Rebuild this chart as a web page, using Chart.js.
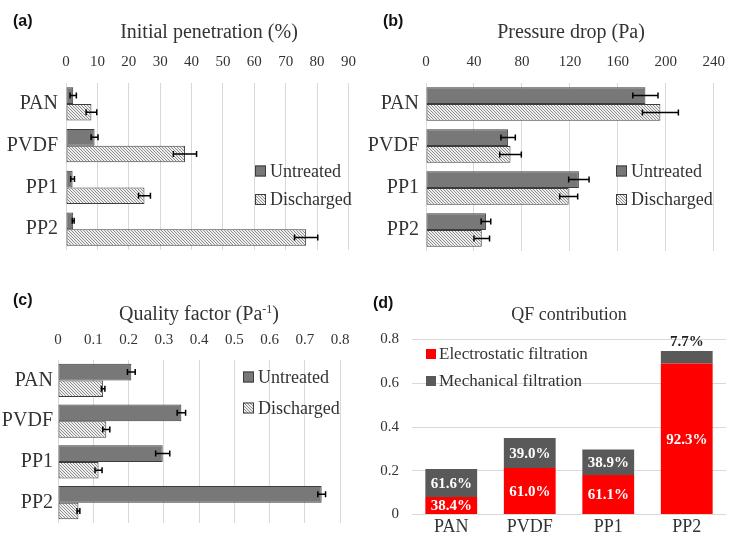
<!DOCTYPE html>
<html>
<head>
<meta charset="utf-8">
<script src="https://cdn.jsdelivr.net/npm/chart.js@4/dist/chart.umd.min.js"></script>
<style>
  html, body { margin: 0; padding: 0; background: #fff; }
  #wrap { position: relative; width: 737px; height: 540px; background: #fff; overflow: hidden; }
  canvas { position: absolute; }
  .tag { position: absolute; font-family: 'Liberation Sans', Arial, sans-serif; font-weight: bold; font-size: 16px; line-height: 1; color: #111; white-space: nowrap; }
  .ttl { position: absolute; font-family: 'Liberation Serif', serif; font-size: 20px; line-height: 1; color: #333; text-align: center; white-space: nowrap; }
  .ttl sup { font-size: 12px; vertical-align: 7px; line-height: 0; }
</style>
</head>
<body>
<div id="wrap">
  <canvas id="cA" width="368" height="270" style="left:0;top:0;width:368px;height:270px"></canvas>
  <canvas id="cB" width="369" height="270" style="left:368px;top:0;width:369px;height:270px"></canvas>
  <canvas id="cC" width="368" height="270" style="left:0;top:270px;width:368px;height:270px"></canvas>
  <canvas id="cD" width="369" height="270" style="left:368px;top:270px;width:369px;height:270px"></canvas>

  <div class="tag" style="left:13px;top:12.5px">(a)</div>
  <div class="tag" style="left:383px;top:12.5px">(b)</div>
  <div class="tag" style="left:13px;top:291.5px">(c)</div>
  <div class="tag" style="left:373px;top:294.5px">(d)</div>

  <div class="ttl" style="left:66px;width:286px;top:20.5px">Initial penetration (%)</div>
  <div class="ttl" style="left:426px;width:290px;top:20.5px">Pressure drop (Pa)</div>
  <div class="ttl" style="left:58px;width:282px;top:303px">Quality factor (Pa<sup>-1</sup>)</div>
  <div class="ttl" style="left:412px;width:314px;top:304.5px;font-size:18px">QF contribution</div>
</div>

<script>
// ---------------- DATA ----------------
const categories = ['PAN', 'PVDF', 'PP1', 'PP2'];
const seriesNames = ['Untreated', 'Discharged'];

// (a) Initial penetration (%)
const penUntreated      = [2.3, 9.1, 2.1, 2.3];
const penUntreatedErr   = [1.0, 1.1, 0.6, 0.3];
const penDischarged     = [8.1, 37.9, 25.0, 76.5];
const penDischargedErr  = [1.7, 3.7, 1.9, 3.7];
const penTicks = [0, 10, 20, 30, 40, 50, 60, 70, 80, 90];

// (b) Pressure drop (Pa)
const dpUntreated      = [183, 68.5, 127.5, 50];
const dpUntreatedErr   = [10.5, 6, 8.5, 4];
const dpDischarged     = [195.5, 70.5, 119, 46.5];
const dpDischargedErr  = [15, 9, 7.5, 6.5];
const dpTicks = [0, 40, 80, 120, 160, 200, 240];

// (c) Quality factor (Pa^-1)
const qfUntreated      = [0.208, 0.350, 0.297, 0.748];
const qfUntreatedErr   = [0.011, 0.012, 0.020, 0.011];
const qfDischarged     = [0.128, 0.137, 0.115, 0.058];
const qfDischargedErr  = [0.005, 0.010, 0.010, 0.004];
const qfTicks = [0, 0.1, 0.2, 0.3, 0.4, 0.5, 0.6, 0.7, 0.8];

// (d) QF contribution
const contribNames = ['Electrostatic filtration', 'Mechanical filtration'];
const electroQF  = [0.080, 0.213, 0.181, 0.690];
const mechQF     = [0.128, 0.137, 0.116, 0.058];
const electroPct = ['38.4%', '61.0%', '61.1%', '92.3%'];
const mechPct    = ['61.6%', '39.0%', '38.9%', '7.7%'];
const contribTicks = [0, 0.2, 0.4, 0.6, 0.8];

// ---------------- STYLE ----------------
Chart.defaults.font.family = "'Liberation Serif', serif";
Chart.defaults.color = '#333';

function hatch() {
  const s = 3;
  const c = document.createElement('canvas');
  c.width = s; c.height = s;
  const g = c.getContext('2d');
  g.fillStyle = '#efefef';
  g.fillRect(0, 0, s, s);
  g.fillStyle = '#8c8c8c';
  for (let i = 0; i < s; i++) g.fillRect(i, i, 1, 1);
  return g.createPattern(c, 'repeat');
}
const hatchPattern = hatch();
const untreatedFill = '#787878';
const barBorder = '#3c3c3c';
const gridColor = '#d9d9d9';

// ---------------- PLUGINS ----------------
const errorBars = {
  id: 'errorBars',
  afterDatasetsDraw(chart, args, opts) {
    const ctx = chart.ctx;
    const xs = chart.scales.x;
    ctx.save();
    ctx.strokeStyle = '#000';
    ctx.lineWidth = 1.5;
    chart.data.datasets.forEach((ds, i) => {
      const errs = opts.errors[i];
      const meta = chart.getDatasetMeta(i);
      meta.data.forEach((el, j) => {
        const v = ds.data[j], e = errs[j];
        const x1 = xs.getPixelForValue(v - e), x2 = xs.getPixelForValue(v + e);
        const y = el.y;
        ctx.beginPath();
        ctx.moveTo(x1, y); ctx.lineTo(x2, y);
        ctx.moveTo(x1, y - 3); ctx.lineTo(x1, y + 3);
        ctx.moveTo(x2, y - 3); ctx.lineTo(x2, y + 3);
        ctx.stroke();
      });
    });
    ctx.restore();
  }
};

const boxLegend = {
  id: 'boxLegend',
  afterDraw(chart, args, o) {
    const ctx = chart.ctx;
    ctx.save();
    chart.data.datasets.forEach((ds, i) => {
      const y = o.y + i * o.gap;
      ctx.fillStyle = ds.backgroundColor;
      ctx.fillRect(o.x, y - o.size / 2, o.size, o.size);
      if (ds.borderWidth) {
        ctx.strokeStyle = ds.borderColor;
        ctx.lineWidth = 1;
        ctx.strokeRect(o.x + 0.5, y - o.size / 2 + 0.5, o.size - 1, o.size - 1);
      }
      ctx.fillStyle = '#333';
      ctx.font = o.font;
      ctx.textBaseline = 'middle';
      ctx.textAlign = 'left';
      ctx.fillText(ds.label, o.x + o.size + o.textGap, y + 1);
    });
    ctx.restore();
  }
};

const segLabels = {
  id: 'segLabels',
  afterDatasetsDraw(chart, args, o) {
    const ctx = chart.ctx;
    ctx.save();
    ctx.font = 'bold 15px "Liberation Serif", serif';
    ctx.textAlign = 'center';
    chart.data.datasets.forEach((ds, i) => {
      const meta = chart.getDatasetMeta(i);
      meta.data.forEach((el, j) => {
        const txt = o.labels[i][j];
        const top = Math.min(el.y, el.base), bot = Math.max(el.y, el.base);
        if (bot - top < 15) {
          ctx.fillStyle = '#222';
          ctx.textBaseline = 'bottom';
          ctx.fillText(txt, el.x, top - 1);
        } else {
          ctx.fillStyle = '#fff';
          ctx.textBaseline = 'middle';
          ctx.fillText(txt, el.x, (top + bot) / 2 + 1);
        }
      });
    });
    ctx.restore();
  }
};

// ---------------- HORIZONTAL PANELS ----------------
function hPanel(id, cfg) {
  return new Chart(document.getElementById(id), {
    type: 'bar',
    data: {
      labels: categories,
      datasets: [
        { label: seriesNames[0], data: cfg.u, backgroundColor: untreatedFill, borderColor: barBorder, borderWidth: 1, borderSkipped: false, categoryPercentage: cfg.cat, barPercentage: 1.0 },
        { label: seriesNames[1], data: cfg.d, backgroundColor: hatchPattern, borderColor: barBorder, borderWidth: 1, borderSkipped: false, categoryPercentage: cfg.cat, barPercentage: 1.0 }
      ]
    },
    options: {
      indexAxis: 'y',
      responsive: false,
      animation: false,
      events: [],
      devicePixelRatio: 1,
      layout: { padding: cfg.pad },
      scales: {
        x: {
          position: 'top',
          min: cfg.ticks[0],
          max: cfg.ticks[cfg.ticks.length - 1],
          afterBuildTicks: (ax) => { ax.ticks = cfg.ticks.map(v => ({ value: v })); },
          afterFit: (ax) => { ax.height = 30; },
          grid: { color: gridColor, lineWidth: 1, drawTicks: false },
          border: { display: false },
          ticks: { font: { size: 15 }, color: '#333', padding: cfg.tickPad, maxRotation: 0, autoSkip: false }
        },
        y: {
          afterFit: (ax) => { ax.width = cfg.yw; },
          grid: { display: false, drawTicks: false },
          border: { display: false },
          ticks: { font: { size: 20 }, color: '#333', padding: cfg.labPad }
        }
      },
      plugins: {
        legend: { display: false },
        tooltip: { enabled: false },
        errorBars: { errors: cfg.err },
        boxLegend: cfg.legend
      }
    },
    plugins: [errorBars, boxLegend]
  });
}

hPanel('cA', {
  u: penUntreated, d: penDischarged, err: [penUntreatedErr, penDischargedErr],
  ticks: penTicks, cat: 0.8, yw: 66, labPad: 8, tickPad: 12,
  pad: { top: 53, right: 16, bottom: 13, left: 0 },
  legend: { x: 255, y: 171, gap: 28.5, size: 11, textGap: 4, font: '18px "Liberation Serif", serif' }
});

hPanel('cB', {
  u: dpUntreated, d: dpDischarged, err: [dpUntreatedErr, dpDischargedErr],
  ticks: dpTicks, cat: 0.8, yw: 58, labPad: 7, tickPad: 12,
  pad: { top: 53, right: 21, bottom: 13, left: 0 },
  legend: { x: 248, y: 171, gap: 28.5, size: 11, textGap: 4, font: '18px "Liberation Serif", serif' }
});

hPanel('cC', {
  u: qfUntreated, d: qfDischarged, err: [qfUntreatedErr, qfDischargedErr],
  ticks: qfTicks, cat: 0.82, yw: 58, labPad: 5, tickPad: 11,
  pad: { top: 60, right: 28, bottom: 13, left: 0 },
  legend: { x: 243, y: 107, gap: 31, size: 11, textGap: 4, font: '18px "Liberation Serif", serif' }
});

// ---------------- STACKED PANEL (d) ----------------
new Chart(document.getElementById('cD'), {
  type: 'bar',
  data: {
    labels: categories,
    datasets: [
      { label: contribNames[0], data: electroQF, backgroundColor: '#ff0000', borderWidth: 0, categoryPercentage: 1.0, barPercentage: 0.66 },
      { label: contribNames[1], data: mechQF, backgroundColor: '#595959', borderWidth: 0, categoryPercentage: 1.0, barPercentage: 0.66 }
    ]
  },
  options: {
    responsive: false,
    animation: false,
    events: [],
    devicePixelRatio: 1,
    layout: { padding: { top: 69.5, right: 11, bottom: 0, left: 0 } },
    scales: {
      x: {
        stacked: true,
        afterFit: (ax) => { ax.height = 25.5; },
        grid: { display: false, drawTicks: false },
        border: { display: false },
        ticks: { font: { size: 18 }, color: '#333', padding: 2 }
      },
      y: {
        stacked: true,
        min: contribTicks[0],
        max: contribTicks[contribTicks.length - 1],
        afterBuildTicks: (ax) => { ax.ticks = contribTicks.map(v => ({ value: v })); },
        afterFit: (ax) => { ax.width = 44; },
        grid: { color: gridColor, lineWidth: 1, drawTicks: false },
        border: { display: false },
        ticks: { font: { size: 15 }, color: '#333', padding: 13 }
      }
    },
    plugins: {
      legend: { display: false },
      tooltip: { enabled: false },
      segLabels: { labels: [electroPct, mechPct] },
      boxLegend: { x: 58, y: 84, gap: 27, size: 10, textGap: 3, font: '17px "Liberation Serif", serif' }
    }
  },
  plugins: [segLabels, boxLegend]
});
</script>
</body>
</html>
